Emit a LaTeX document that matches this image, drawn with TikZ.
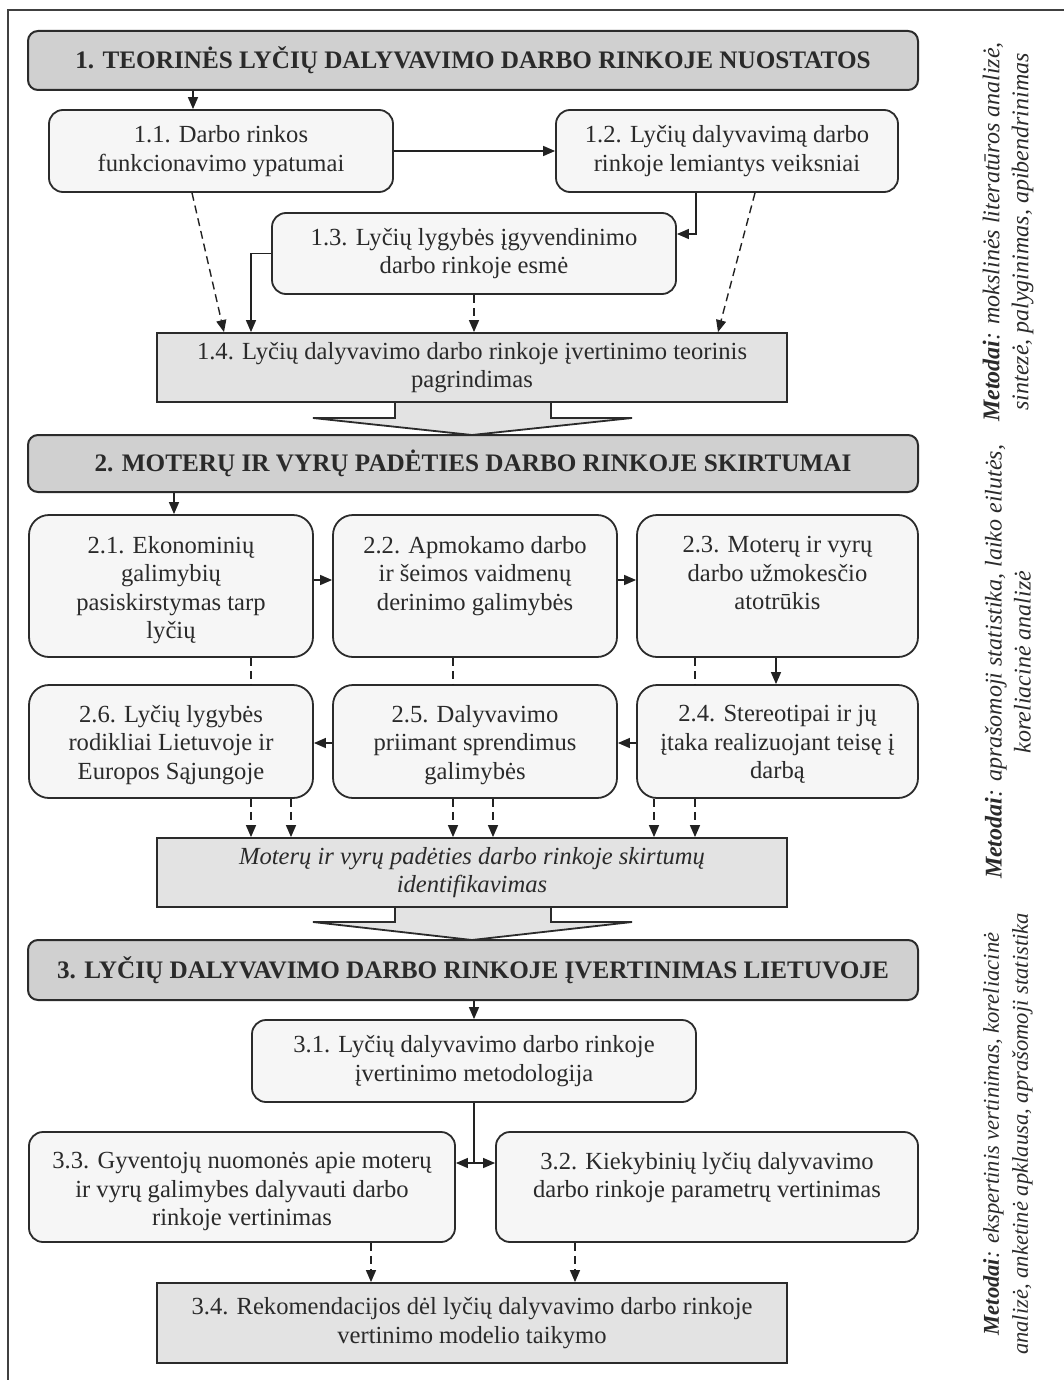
\documentclass[tikz,border=0pt]{standalone}
\usepackage{fontspec}
\setmainfont{Liberation Serif}
\usetikzlibrary{arrows.meta}
\definecolor{bc}{HTML}{2B2B2B}
\definecolor{lc}{HTML}{222222}
\definecolor{hdrfill}{HTML}{D0D0D0}
\definecolor{boxfill}{HTML}{F6F6F6}
\definecolor{sumfill}{HTML}{E3E3E3}
\definecolor{txt}{HTML}{2A2A2A}
\newcommand\myBody{\fontsize{12.3}{14.2}\selectfont}
\begin{document}
\begin{tikzpicture}[x=0.5pt,y=-0.5pt,
  hdr/.style={draw=bc, line width=1pt, fill=hdrfill, rounded corners=5pt, inner sep=0pt,
    text=txt, font=\fontsize{12.6}{14}\selectfont\bfseries, minimum width=445pt},
  rbox/.style={draw=bc, line width=0.9pt, fill=boxfill, rounded corners=7pt, inner sep=0pt,
    align=center, text=txt, font=\myBody},
  rbox2/.style={rbox, rounded corners=10pt},
  sbox/.style={draw=bc, line width=0.9pt, fill=sumfill, inner sep=0pt, align=center, text=txt, font=\myBody},
  tnode/.style={inner sep=0pt, align=center, text=txt, font=\myBody},
  conn/.style={line width=0.7pt, draw=lc, -{Triangle[length=6pt,width=5pt]}},
  dconn/.style={conn, dash pattern=on 4pt off 2.5pt},
  dline/.style={line width=0.7pt, draw=lc, dash pattern=on 4pt off 2.5pt},
  blk/.style={line width=0.9pt, draw=bc},
  meth/.style={inner sep=0pt, align=center, text=txt, font=\fontsize{12}{14.5}\selectfont\itshape, rotate=90}
]
\useasboundingbox (0,0) rectangle (1064,1380);
% frame
\draw[line width=1pt, draw=black!75] (8,1385) -- (8,10) -- (1070,10);

% ---------- helper coordinates ----------
\coordinate (x174) at (174,0);
\coordinate (x192) at (192,0);
\coordinate (x193) at (193,0);
\coordinate (x224) at (224,0);
\coordinate (x251) at (251,0);
\coordinate (x291) at (291,0);
\coordinate (x453) at (453,0);
\coordinate (x493) at (493,0);
\coordinate (x654) at (654,0);
\coordinate (x695) at (695,0);
\coordinate (x696) at (696,0);
\coordinate (x718) at (718,0);
\coordinate (x755) at (755,0);
\coordinate (x776) at (776,0);
\coordinate (x371) at (371,0);
\coordinate (x575) at (575,0);
\coordinate (y234) at (0,234);
\coordinate (y580) at (0,580);
\coordinate (y743) at (0,743);

% ---------- Section 1 ----------
\node[hdr, minimum height=29.5pt] (h1) at (473,60.5) {1. TEORINĖS LYČIŲ DALYVAVIMO DARBO RINKOJE NUOSTATOS};
\node[rbox, minimum width=172pt, minimum height=41pt] (b11) at (221,151) {1.1. Darbo rinkos\\funkcionavimo ypatumai};
\node[rbox, minimum width=171pt, minimum height=41pt] (b12) at (727,151) {1.2. Lyčių dalyvavimą darbo\\rinkoje lemiantys veiksniai};
\node[rbox, minimum width=202pt, minimum height=40.5pt] (b13) at (474,253.5) {1.3. Lyčių lygybės įgyvendinimo\\darbo rinkoje esmė};
\node[sbox, minimum width=315pt, minimum height=34.5pt] (b14) at (472,367.5) {1.4. Lyčių dalyvavimo darbo rinkoje įvertinimo teorinis\\pagrindimas};

\draw[conn] (h1.south -| x193) -- (b11.north -| x193);
\draw[conn] (b11) -- (b12);
\draw[conn] (b12.south -| x696) |- (b13.east |- y234);
\draw[conn] (b13.west) -| (b14.north -| x251);
\draw[dconn] (b11.south -| x192) -- (b14.north -| x224);
\draw[dconn] (b12.south -| x755) -- (b14.north -| x718);
\draw[dconn] (b13.south) -- (b13.south |- b14.north);

% block arrow 1
\fill[sumfill] (395,403) -- (395,418) -- (313,418) -- (472,435) -- (632,418) -- (551,418) -- (551,403) -- cycle;
\draw[blk] (395,402.5) -- (395,418) -- (313,418) -- (472,435) -- (632,418) -- (551,418) -- (551,402.5);

% ---------- Section 2 ----------
\node[hdr, minimum height=28.5pt] (h2) at (473,463.5) {2. MOTERŲ IR VYRŲ PADĖTIES DARBO RINKOJE SKIRTUMAI};

\node[rbox2, minimum width=142pt, minimum height=71pt] (b21) at (171,586) {};
\node[rbox2, minimum width=142pt, minimum height=71pt] (b22) at (475,586) {};
\node[rbox2, minimum width=140.5pt, minimum height=71pt] (b23) at (777.5,586) {};
\node[rbox2, minimum width=142pt, minimum height=56.5pt] (b26) at (171,741.5) {};
\node[rbox2, minimum width=142pt, minimum height=56.5pt] (b25) at (475,741.5) {};
\node[rbox2, minimum width=140.5pt, minimum height=56.5pt] (b24) at (777.5,741.5) {};

\node[tnode, anchor=north] (t21) at (171,536) {2.1. Ekonominių\\galimybių\\pasiskirstymas tarp\\lyčių};
\node[tnode, anchor=north] (t22) at (475,536) {2.2. Apmokamo darbo\\ir šeimos vaidmenų\\derinimo galimybės};
\node[tnode, anchor=north] (t23) at (777.5,536) {2.3. Moterų ir vyrų\\darbo užmokesčio\\atotrūkis};
\node[tnode, anchor=north] (t26) at (171,705) {2.6. Lyčių lygybės\\rodikliai Lietuvoje ir\\Europos Sąjungoje};
\node[tnode, anchor=north] (t25) at (475,705) {2.5. Dalyvavimo\\priimant sprendimus\\galimybės};
\node[tnode, anchor=north] (t24) at (777.5,705) {2.4. Stereotipai ir jų\\įtaka realizuojant teisę į\\darbą};

\node[sbox, minimum width=315pt, minimum height=34.5pt, font=\myBody\itshape] (b27) at (472,872.5) {Moterų ir vyrų padėties darbo rinkoje skirtumų\\identifikavimas};

\draw[conn] (h2.south -| x174) -- (b21.north -| x174);
\draw[conn] (b21.east |- y580) -- (b22.west |- y580);
\draw[conn] (b22.east |- y580) -- (b23.west |- y580);
\draw[conn] (b23.south -| x776) -- (b24.north -| x776);
\draw[conn] (b24.west |- y743) -- (b25.east |- y743);
\draw[conn] (b25.west |- y743) -- (b26.east |- y743);
\draw[dline] (b21.south -| x251) -- (b26.north -| x251);
\draw[dline] (b22.south -| x453) -- (b25.north -| x453);
\draw[dline] (b23.south -| x695) -- (b24.north -| x695);
\draw[dconn] (b26.south -| x251) -- (b27.north -| x251);
\draw[dconn] (b26.south -| x291) -- (b27.north -| x291);
\draw[dconn] (b25.south -| x453) -- (b27.north -| x453);
\draw[dconn] (b25.south -| x493) -- (b27.north -| x493);
\draw[dconn] (b24.south -| x654) -- (b27.north -| x654);
\draw[dconn] (b24.south -| x695) -- (b27.north -| x695);

% block arrow 2
\fill[sumfill] (395,908) -- (395,922) -- (313,922) -- (472,940) -- (632,922) -- (551,922) -- (551,908) -- cycle;
\draw[blk] (395,907.5) -- (395,922) -- (313,922) -- (472,940) -- (632,922) -- (551,922) -- (551,907.5);

% ---------- Section 3 ----------
\node[hdr, minimum height=30pt] (h3) at (473,970) {3. LYČIŲ DALYVAVIMO DARBO RINKOJE ĮVERTINIMAS LIETUVOJE};
\node[rbox, minimum width=222pt, minimum height=41pt] (b31) at (474,1061) {3.1. Lyčių dalyvavimo darbo rinkoje\\įvertinimo metodologija};
\node[rbox, minimum width=213pt, minimum height=55pt] (b33) at (242,1187) {};
\node[rbox, minimum width=211pt, minimum height=55pt] (b32) at (707,1187) {};
\node[tnode, anchor=north] (t33) at (242,1152) {3.3. Gyventojų nuomonės apie moterų\\ir vyrų galimybes dalyvauti darbo\\rinkoje vertinimas};
\node[tnode, anchor=north] (t32) at (707,1152) {3.2. Kiekybinių lyčių dalyvavimo\\darbo rinkoje parametrų vertinimas};
\node[sbox, minimum width=315pt, minimum height=40pt] (b34) at (472,1323) {3.4. Rekomendacijos dėl lyčių dalyvavimo darbo rinkoje\\vertinimo modelio taikymo};

\coordinate (j3) at (474,1163);
\draw[conn] (h3.south -| b31.north) -- (b31.north);
\draw[line width=0.7pt, draw=lc] (b31.south) -- (j3);
\draw[conn] (j3) -- (b33.east |- j3);
\draw[conn] (j3) -- (b32.west |- j3);
\draw[dconn] (b33.south -| x371) -- (b34.north -| x371);
\draw[dconn] (b32.south -| x575) -- (b34.north -| x575);

% ---------- Methods ----------
\node[meth] (m1) at (1008,232) {\textbf{Metodai}: mokslinės literatūros analizė,\\sintezė, palyginimas, apibendrinimas};
\node[meth] (m2) at (1008,662) {\textbf{Metodai}: aprašomoji statistika, laiko eilutės,\\koreliacinė analizė};
\node[meth, font=\fontsize{11.3}{14.5}\selectfont\itshape] (m3) at (1008,1134) {\textbf{Metodai}: ekspertinis vertinimas, koreliacinė\\analizė, anketinė apklausa, aprašomoji statistika};
\end{tikzpicture}
\end{document}
